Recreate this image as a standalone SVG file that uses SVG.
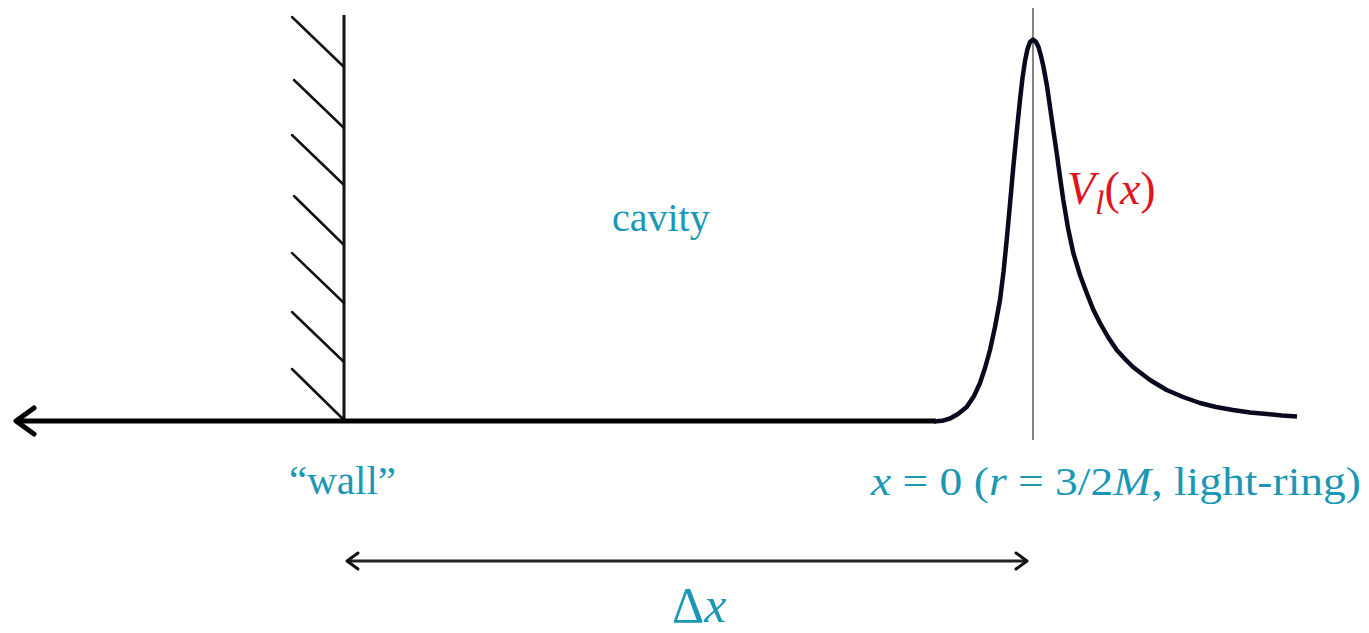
<svg xmlns="http://www.w3.org/2000/svg" width="1369" height="633" viewBox="0 0 1369 633">
<style>
.t{fill:#1b97b6;font-family:"Liberation Serif","DejaVu Serif",serif}
.r{fill:#e0151e;font-family:"Liberation Serif","DejaVu Serif",serif}
.h{stroke:#111;stroke-width:2.5;fill:none;stroke-linecap:round}
</style>
<rect width="1369" height="633" fill="#fff"/>
<g id="wall">
<line x1="344" y1="15" x2="344" y2="421" stroke="#111" stroke-width="3"/>
<line class="h" x1="292" y1="17" x2="344" y2="67"/>
<line class="h" x1="294" y1="80" x2="344" y2="128"/>
<line class="h" x1="292" y1="135" x2="344" y2="185"/>
<line class="h" x1="294" y1="196" x2="344" y2="245"/>
<line class="h" x1="292" y1="253" x2="344" y2="303"/>
<line class="h" x1="292" y1="312" x2="344" y2="362"/>
<line class="h" x1="292" y1="369" x2="344" y2="420"/>
</g>
<g id="axis">
<line x1="16" y1="421" x2="936" y2="421" stroke="#000" stroke-width="5"/>
<polyline points="34,408 16,421 34,434" fill="none" stroke="#000" stroke-width="5" stroke-linecap="round" stroke-linejoin="round"/>
</g>
<g id="lightring-line">
<line x1="1033" y1="8" x2="1033" y2="440" stroke="#333" stroke-width="1.2"/>
</g>
<g id="potential">
<polyline points="934,421.5 942,420.8 950,418.5 958,414 966.7,407 974,396 980,383 985,368 990,350 995,327 1000,300 1003.5,272 1006.7,240 1010,204 1013.3,167 1016.7,132 1020,100 1022.5,78 1025,61 1027.5,49 1030,42 1033,39.5 1036,42 1038.5,47 1041,56 1043.5,67 1047,86 1050,107 1053.3,130 1056.7,153 1060,177 1063.3,200 1068,228 1073.3,253 1080,275 1086.7,293 1093,309 1100,323 1108,337 1116.7,350 1125,359 1133,367 1150,380 1166.7,390 1183,397 1200,403 1216,407 1233,410 1250,412.5 1267,414 1282,415.5 1297,416.5" fill="none" stroke="#0a0a1e" stroke-width="4.5" stroke-linejoin="round"/>
</g>
<g id="labels">
<text class="r" x="1067" y="204" font-size="46" font-style="italic">V<tspan font-size="34" dy="10">l</tspan><tspan dy="-10" font-style="normal">(</tspan>x<tspan font-style="normal">)</tspan></text>
<text class="t" x="612" y="231" font-size="40">cavity</text>
<text class="t" x="289" y="494" font-size="41">“wall”</text>
<text class="t" x="871" y="495" font-size="40" textLength="490" lengthAdjust="spacingAndGlyphs"><tspan font-style="italic">x</tspan> = 0 (<tspan font-style="italic">r</tspan> = 3/2<tspan font-style="italic">M</tspan>, light-ring)</text>
<text class="t" x="672" y="622" font-size="50">Δ<tspan font-style="italic">x</tspan></text>
</g>
<g id="connectors">
<line x1="347" y1="561" x2="1027" y2="561" stroke="#222" stroke-width="3"/>
<polyline points="358,553 347,561 358,569" fill="none" stroke="#111" stroke-width="3" stroke-linecap="round" stroke-linejoin="round"/>
<polyline points="1016,553 1027,561 1016,569" fill="none" stroke="#111" stroke-width="3" stroke-linecap="round" stroke-linejoin="round"/>
</g>
</svg>
